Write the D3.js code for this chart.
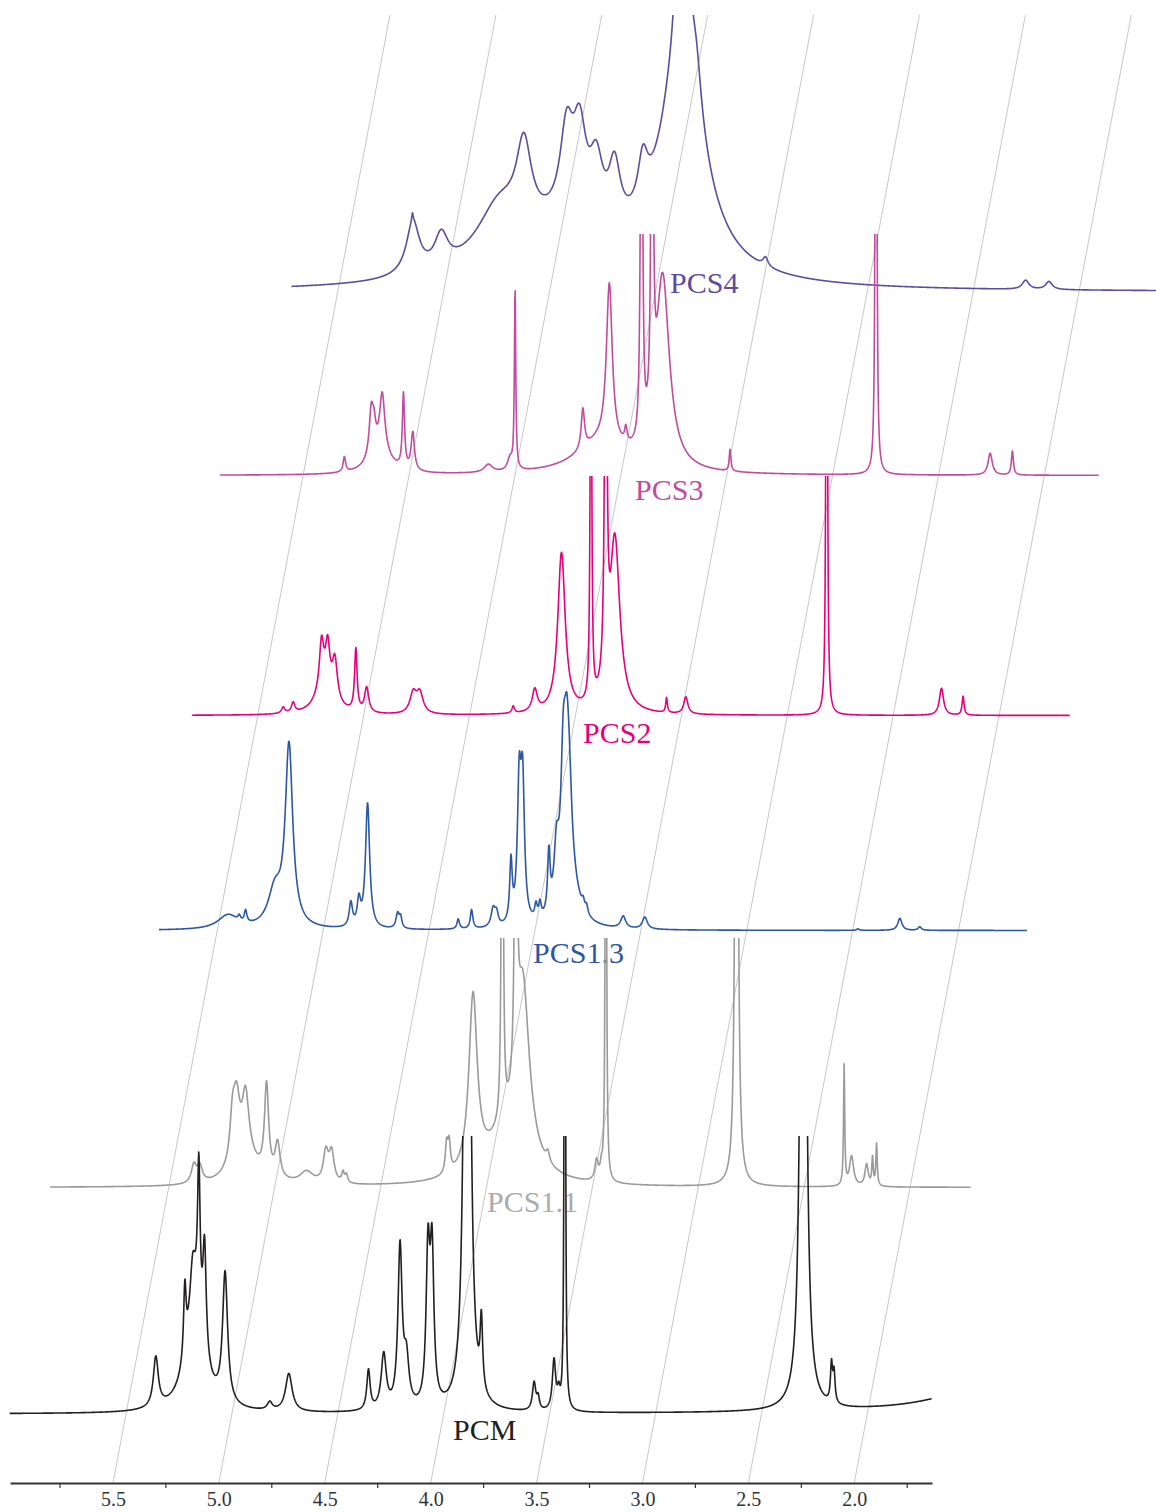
<!DOCTYPE html>
<html>
<head>
<meta charset="utf-8">
<script src="https://cdn.jsdelivr.net/npm/d3@7"></script>
<style>
body { margin: 0; background: #fff; }
svg { display: block; font-family: "Liberation Serif", "Times New Roman", serif; }
</style>
</head>
<body>
<div id="chart"></div>
<script>
// chemical shift ticks (ppm)
var tickMajor = [5.5, 5.0, 4.5, 4.0, 3.5, 3.0, 2.5, 2.0];
var tickMinor = [5.75, 5.25, 4.75, 4.25, 3.75, 3.25, 2.75, 2.25, 1.75];

// samples, top to bottom
var sampleNames = ["PCS4", "PCS3", "PCS2", "PCS1.3", "PCS1.1", "PCM"];

// ppm range recorded for each sample
var ppmRanges = [[5.718, 1.60], [5.892, 1.742], [5.811, 1.666], [5.775, 1.677], [6.061, 1.713], [6.049, 1.695]];

// peak lists: [shift ppm, intensity, half width ppm]
var peaksPCS4 = [
  [4.452, 24, 0.330], [3.873, 400, 0.0118], [3.873, 115, 0.118], [3.806, 20, 0.0283],
  [5.145, 26, 0.0378], [5.147, 4, 0.004], [5.011, 16, 0.0378], [4.740, 27, 0.130],
  [4.621, 40, 0.0425], [4.419, 42.5, 0.0378], [4.358, 42.5, 0.0378], [4.279, 30, 0.0378],
  [4.193, 30, 0.033], [4.059, 24, 0.0283], [3.480, 4.5, 0.0142], [2.252, 4.5, 0.0189],
  [2.142, 4, 0.0189]
];
var peaksPCS3 = [
  [5.305, 7.5, 0.0071], [5.137, 12.5, 0.0567], [5.178, 22.5, 0.0118], [5.165, 10, 0.0094],
  [5.126, 27.5, 0.0142], [5.026, 37.5, 0.0061], [4.982, 19, 0.0094], [4.625, 4, 0.0236],
  [4.523, 6, 0.0142], [4.499, 90, 0.0038], [4.098, 15, 0.1416], [4.179, 20, 0.0094],
  [4.054, 80, 0.0165], [3.976, 7.5, 0.0071], [3.902, 300, 0.0047], [3.852, 300, 0.0047],
  [3.802, 95, 0.0378], [3.484, 11, 0.0047], [2.795, 600, 0.0028], [2.256, 11, 0.0118],
  [2.151, 12, 0.0057]
];
var peaksPCS2 = [
  [5.380, 3, 0.0094], [5.333, 5, 0.0094], [5.183, 15, 0.0472], [5.199, 22.5, 0.0118],
  [5.170, 20, 0.0118], [5.136, 20, 0.0142], [5.037, 31, 0.0071], [4.986, 12.5, 0.0118],
  [4.766, 10, 0.0189], [4.735, 10, 0.0189], [4.294, 3.5, 0.0071], [4.192, 11, 0.0142],
  [4.066, 80, 0.0212], [3.927, 250, 0.0038], [3.857, 250, 0.0057], [3.814, 86, 0.0283],
  [3.570, 7.5, 0.0047], [3.479, 8.5, 0.0118], [2.814, 400, 0.0033], [2.272, 13.5, 0.0118],
  [2.170, 9.5, 0.0057]
];
var peaksPCS13 = [
  [5.449, 7, 0.0567], [5.396, 2.5, 0.0071], [5.366, 6, 0.0071], [5.228, 17.5, 0.0378],
  [5.161, 90, 0.0212], [4.869, 12, 0.0094], [4.831, 12.5, 0.0094], [4.790, 62.5, 0.0118],
  [4.648, 7.5, 0.0094], [4.634, 5, 0.0071], [4.362, 5, 0.0071], [4.299, 9.5, 0.0071],
  [4.197, 9, 0.0118], [4.181, 6, 0.0094], [4.113, 30, 0.0071], [4.074, 66, 0.0104],
  [4.058, 66, 0.0104], [3.995, 7, 0.0071], [3.976, 7.5, 0.0071], [3.934, 30, 0.0071],
  [3.898, 30, 0.0142], [3.866, 64, 0.0142], [3.850, 50, 0.0142], [3.838, 40, 0.0165],
  [3.825, 15, 0.0472], [3.772, 4, 0.0071], [3.756, 4, 0.0071], [3.583, 6, 0.0142],
  [3.481, 6, 0.0142], [2.475, 0.75, 0.0071], [2.277, 6, 0.0118], [2.183, 1.75, 0.0094]
];
var peaksPCS11 = [
  [5.381, 9, 0.0142], [5.353, 8, 0.0142], [5.141, 15, 0.0708], [5.199, 20, 0.0142],
  [5.180, 29, 0.0189], [5.137, 29, 0.0189], [5.038, 45, 0.0118], [4.986, 17.5, 0.0142],
  [4.849, 6, 0.0378], [4.758, 15, 0.0142], [4.731, 15, 0.0142], [4.677, 5, 0.0071],
  [4.661, 4, 0.0071], [4.188, 14, 0.0071], [4.176, 14, 0.0071], [4.063, 87.5, 0.0236],
  [3.913, 20, 0.118], [3.925, 350, 0.0038], [3.861, 300, 0.0047], [3.828, 88, 0.0378],
  [3.710, 5, 0.0094], [3.480, 10, 0.0094], [3.457, 6, 0.0071], [3.436, 400, 0.0028],
  [2.819, 500, 0.0061], [2.311, 60, 0.0033], [2.276, 15, 0.0118], [2.205, 11, 0.0094],
  [2.177, 14, 0.0038], [2.158, 21, 0.0038]
];
var peaksPCM = [
  [5.359, 25, 0.0142], [5.175, 55, 0.0472], [5.222, 35, 0.0071], [5.185, 20, 0.0142],
  [5.156, 72.5, 0.0071], [5.129, 53.5, 0.0094], [5.032, 65, 0.0142], [4.821, 4, 0.0142],
  [4.731, 19, 0.0189], [4.355, 20, 0.0094], [4.283, 27.5, 0.0142], [4.206, 80, 0.0118],
  [4.176, 22.5, 0.0142], [4.074, 74, 0.0104], [4.055, 74, 0.0104], [3.889, 600, 0.0113],
  [3.822, 35, 0.0071], [3.573, 14, 0.0094], [3.554, 6, 0.0071], [3.479, 25, 0.0094],
  [3.457, 7.5, 0.0071], [3.428, 600, 0.0024], [2.302, 600, 0.0109], [2.169, 19, 0.0057],
  [2.157, 15, 0.0057], [1.375, 17, 0.283]
];
var peakLists = [peaksPCS4, peaksPCS3, peaksPCS2, peaksPCS13, peaksPCS11, peaksPCM];

// layout of the stack (pixels)
var baseY = [292, 475.5, 715.5, 930.5, 1187.5, 1414];
var clipTop = [15, 234, 476, 660, 938, 1136];
var labelPos = [[670, 293], [635, 500], [583, 743], [533, 963], [487, 1212], [453, 1440]];
var lineColors = ["#5d4ba1", "#c24b9d", "#e6007e", "#2c56a6", "#9a9a9a", "#231f20"];
var labelColors = ["#5d4ba1", "#c24b9d", "#e6007e", "#2c56a6", "#ababab", "#231f20"];

var svgWidth = 1156, svgHeight = 1512;
var axisY = 1483, topY = 15;
var skew = 0.1887; // horizontal shift per pixel of height

var svg = d3.select("#chart").append("svg")
  .attr("width", svgWidth)
  .attr("height", svgHeight);

var xScale = d3.scaleLinear().domain([5.986, 1.633]).range([10, 932]);
var yScale = d3.scaleLinear().domain([0, 100]).range([0, 200]);

// slanted guide lines through the major ticks
svg.append("g").selectAll("line").data(tickMajor).enter()
  .append("line")
  .attr("x1", d => xScale(d))
  .attr("y1", axisY)
  .attr("x2", d => xScale(d) + skew * (axisY - topY))
  .attr("y2", topY)
  .attr("stroke", "#c8c8c8")
  .attr("stroke-width", 1);

function intensity(peaks, ppm) {
  return d3.sum(peaks, p => p[1] / (1 + Math.pow((ppm - p[0]) / p[2], 2)));
}

var defs = svg.append("defs");

sampleNames.forEach(function(name, i) {
  var off = skew * (axisY - baseY[i]);
  var r = ppmRanges[i];
  var pts = d3.range(r[0], r[1], -0.0015).map(function(ppm) {
    return [ppm, intensity(peakLists[i], ppm)];
  });

  defs.append("clipPath").attr("id", "clip" + i)
    .append("rect")
    .attr("x", 0).attr("y", clipTop[i])
    .attr("width", svgWidth).attr("height", svgHeight - clipTop[i]);

  var line = d3.line()
    .x(d => xScale(d[0]) + off)
    .y(d => baseY[i] - yScale(d[1]));

  svg.append("text")
    .attr("x", labelPos[i][0])
    .attr("y", labelPos[i][1])
    .attr("fill", labelColors[i])
    .style("font-size", "30px")
    .text(name);

  svg.append("path")
    .datum(pts)
    .attr("clip-path", "url(#clip" + i + ")")
    .attr("d", line)
    .attr("fill", "none")
    .attr("stroke", lineColors[i])
    .attr("stroke-width", 1.6)
    .attr("stroke-linejoin", "round");
});

// ppm axis
var axisG = svg.append("g").attr("transform", `translate(0, ${axisY})`);
axisG.call(d3.axisBottom(xScale).tickValues(tickMajor).tickSize(0).tickSizeOuter(0)
  .tickPadding(9).tickFormat(d3.format(".1f")));
axisG.attr("font-family", "Liberation Serif").attr("font-size", 20);
axisG.selectAll(".tick text").attr("fill", "#333");
axisG.select(".domain").attr("stroke", "#333").attr("stroke-width", 2);

axisG.append("g").selectAll("line").data(tickMinor).enter()
  .append("line")
  .attr("x1", d => xScale(d)).attr("x2", d => xScale(d))
  .attr("y1", 0).attr("y2", 5)
  .attr("stroke", "#333")
  .attr("stroke-width", 1.2);
</script>
</body>
</html>
